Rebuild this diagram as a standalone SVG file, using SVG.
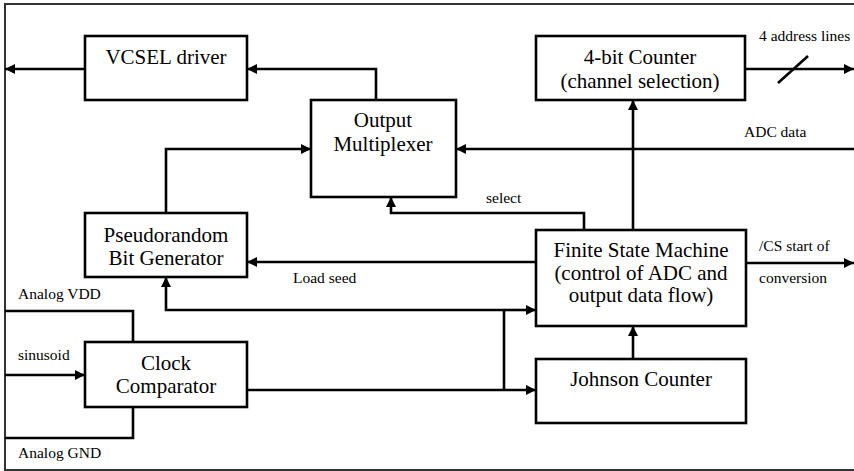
<svg xmlns="http://www.w3.org/2000/svg" width="854" height="471" viewBox="0 0 854 471">
<style>
.box{fill:#fff;stroke:#000;stroke-width:2.6}
.ln{fill:none;stroke:#000;stroke-width:2.6}
.arr{marker-end:url(#ah)}
.frame{fill:none;stroke:#333;stroke-width:2}
.t{font-family:"Liberation Serif","Times New Roman",serif;font-size:21px;fill:#000;text-anchor:middle}
.s{font-family:"Liberation Serif","Times New Roman",serif;font-size:15.5px;fill:#000}
</style>
<defs>
<marker id="ah" markerUnits="userSpaceOnUse" markerWidth="11" markerHeight="11" refX="10" refY="5" orient="auto">
<path d="M0,0 L10,5 L0,10 z" fill="#000"/>
</marker>
</defs>
<rect width="854" height="471" fill="#fff"/>
<path class="frame" d="M854,4 H5 V470 H854"/>
<g id="connectors">
<path class="ln arr" d="M85,69 H5"/>
<path class="ln arr" d="M376,100 V69 H247"/>
<path class="ln arr" d="M166,213 V149 H311"/>
<path class="ln arr" d="M854,149 H456"/>
<path class="ln arr" d="M745,69 H854"/>
<path class="ln" d="M778,83 L808,56"/>
<path class="ln arr" d="M633,230 V100"/>
<path class="ln arr" d="M584,230 V213 H391 V197"/>
<path class="ln arr" d="M536,262 H247"/>
<path class="ln arr" d="M746,263 H854"/>
<path class="ln arr" d="M633,359 V326"/>
<path class="ln arr" d="M247,390 H536"/>
<path class="ln" d="M504,390 V310"/>
<path class="ln arr" d="M504,310 H536"/>
<path class="ln arr" d="M504,310 H166 V277"/>
<path class="ln" d="M5,311 H133 V342"/>
<path class="ln" d="M133,407 V438 H5"/>
<path class="ln arr" d="M5,375 H85"/>
</g>
<g id="vcsel"><rect class="box" x="85" y="36" width="162" height="64"/><text class="t" x="166" y="64">VCSEL driver</text></g>
<g id="mux"><rect class="box" x="311" y="100" width="145" height="97"/><text class="t" x="383" y="127">Output</text><text class="t" x="383" y="151">Multiplexer</text></g>
<g id="counter4"><rect class="box" x="536" y="36" width="209" height="64"/><text class="t" x="640" y="64">4-bit Counter</text><text class="t" x="640" y="88">(channel selection)</text></g>
<g id="prbg"><rect class="box" x="85" y="213" width="162" height="64"/><text class="t" x="166" y="242">Pseudorandom</text><text class="t" x="166" y="265">Bit Generator</text></g>
<g id="fsm"><rect class="box" x="536" y="230" width="210" height="96"/><text class="t" x="641" y="257">Finite State Machine</text><text class="t" x="641" y="280">(control of ADC and</text><text class="t" x="641" y="302">output data flow)</text></g>
<g id="clock"><rect class="box" x="85" y="342" width="162" height="65"/><text class="t" x="166" y="370">Clock</text><text class="t" x="166" y="393">Comparator</text></g>
<g id="johnson"><rect class="box" x="536" y="359" width="210" height="64"/><text class="t" x="641" y="386">Johnson Counter</text></g>
<g id="labels">
<text class="s" x="759" y="41">4 address lines</text>
<text class="s" x="744" y="137">ADC data</text>
<text class="s" x="486" y="203">select</text>
<text class="s" x="293" y="283">Load seed</text>
<text class="s" x="759" y="251">/CS start of</text>
<text class="s" x="759" y="283">conversion</text>
<text class="s" x="18" y="299">Analog VDD</text>
<text class="s" x="18" y="360">sinusoid</text>
<text class="s" x="18" y="458">Analog GND</text>
</g>
</svg>
